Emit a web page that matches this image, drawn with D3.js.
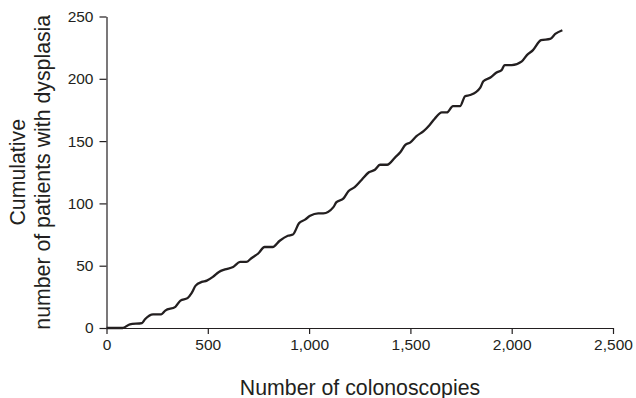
<!DOCTYPE html>
<html>
<head>
<meta charset="utf-8">
<script src="https://cdn.jsdelivr.net/npm/d3@7"></script>
<style>
  body { margin: 0; background: #fff; }
  svg text { font-family: "Liberation Sans", Arial, sans-serif; fill: #231f20; }
</style>
</head>
<body>
<div id="chart"></div>
<script>
// Cumulative number of patients with dysplasia vs number of colonoscopies
// values

var colonoscopies = [0, 80, 115, 175, 190, 230, 270, 290, 340, 365, 400, 420, 440, 470, 495,
  525, 555, 585, 625, 660, 690, 715, 750, 780, 820, 855, 895, 920, 950, 980, 1005, 1045,
  1070, 1120, 1135, 1170, 1195, 1225, 1260, 1295, 1325, 1350, 1385, 1425, 1450, 1475,
  1500, 1530, 1565, 1595, 1620, 1655, 1680, 1710, 1745, 1770, 1795, 1845, 1860, 1895,
  1925, 1950, 1965, 2000, 2050, 2075, 2105, 2145, 2190, 2215, 2250];

var dysplasia = [0, 0, 3, 4, 7, 11, 11, 14, 17, 22, 24, 28, 34, 37, 38,
  41, 45, 47, 49, 53, 53, 56, 60, 65, 65, 70, 74, 75, 84, 87, 90, 92,
  92, 97, 101, 104, 110, 113, 119, 125, 127, 131, 131, 137, 141, 147,
  149, 154, 158, 163, 168, 173, 173, 178, 178, 186, 187, 193, 198, 201,
  205, 207, 211, 211, 214, 219, 223, 231, 232, 236, 239];

var xTicks = [0, 500, 1000, 1500, 2000, 2500];
var yTicks = [0, 50, 100, 150, 200, 250];

var W = 636, H = 398;
var margin = { top: 16.5, left: 106.5, right: 23, bottom: 70 };
var width = W - margin.left - margin.right;
var height = H - margin.top - margin.bottom;

var svg = d3.select("#chart").append("svg")
    .attr("width", W)
    .attr("height", H);

var g = svg.append("g")
    .attr("transform", "translate(" + margin.left + "," + margin.top + ")");

var x = d3.scaleLinear().domain([0, 2500]).range([0, width]);
var y = d3.scaleLinear().domain([0, 250]).range([height, 0]);

var fmt = d3.format(",");

var xAxis = d3.axisBottom(x)
    .tickValues(xTicks)
    .tickFormat(fmt)
    .tickSizeInner(6)
    .tickSizeOuter(0)
    .tickPadding(5);

var yAxis = d3.axisLeft(y)
    .tickValues(yTicks)
    .tickSizeInner(7)
    .tickSizeOuter(0)
    .tickPadding(6);

function styleAxis(sel) {
  sel.select(".domain").attr("stroke", "#231f20").attr("stroke-width", 1.2);
  sel.selectAll(".tick line").attr("stroke", "#231f20").attr("stroke-width", 1.2);
  sel.selectAll(".tick text")
      .style("font-size", "15.5px")
      .style("font-family", "'Liberation Sans', Arial, sans-serif")
      .attr("fill", "#231f20");
}

g.append("g")
    .attr("class", "x axis")
    .attr("transform", "translate(0," + height + ")")
    .call(xAxis)
    .call(styleAxis);

g.append("g")
    .attr("class", "y axis")
    .call(yAxis)
    .call(styleAxis);

var points = colonoscopies.map(function(d, i) { return [d, dysplasia[i]]; });

var line = d3.line()
    .x(function(d) { return x(d[0]); })
    .y(function(d) { return y(d[1]); })
    .curve(d3.curveMonotoneX);

g.append("path")
    .datum(points)
    .attr("fill", "none")
    .attr("stroke", "#231f20")
    .attr("stroke-width", 2.3)
    .attr("stroke-linejoin", "round")
    .attr("d", line);

// axis titles
svg.append("text")
    .attr("x", 360)
    .attr("y", 394.5)
    .attr("text-anchor", "middle")
    .style("font-size", "21.3px")
    .text("Number of colonoscopies");

var yTitle = svg.append("text")
    .attr("transform", "translate(25," + (margin.top + height / 2) + ") rotate(-90)")
    .attr("text-anchor", "middle")
    .style("font-size", "21.3px");

yTitle.append("tspan").attr("x", 0).attr("y", 0).text("Cumulative");
yTitle.append("tspan").attr("x", 0).attr("y", 25).text("number of patients with dysplasia");
</script>
</body>
</html>
